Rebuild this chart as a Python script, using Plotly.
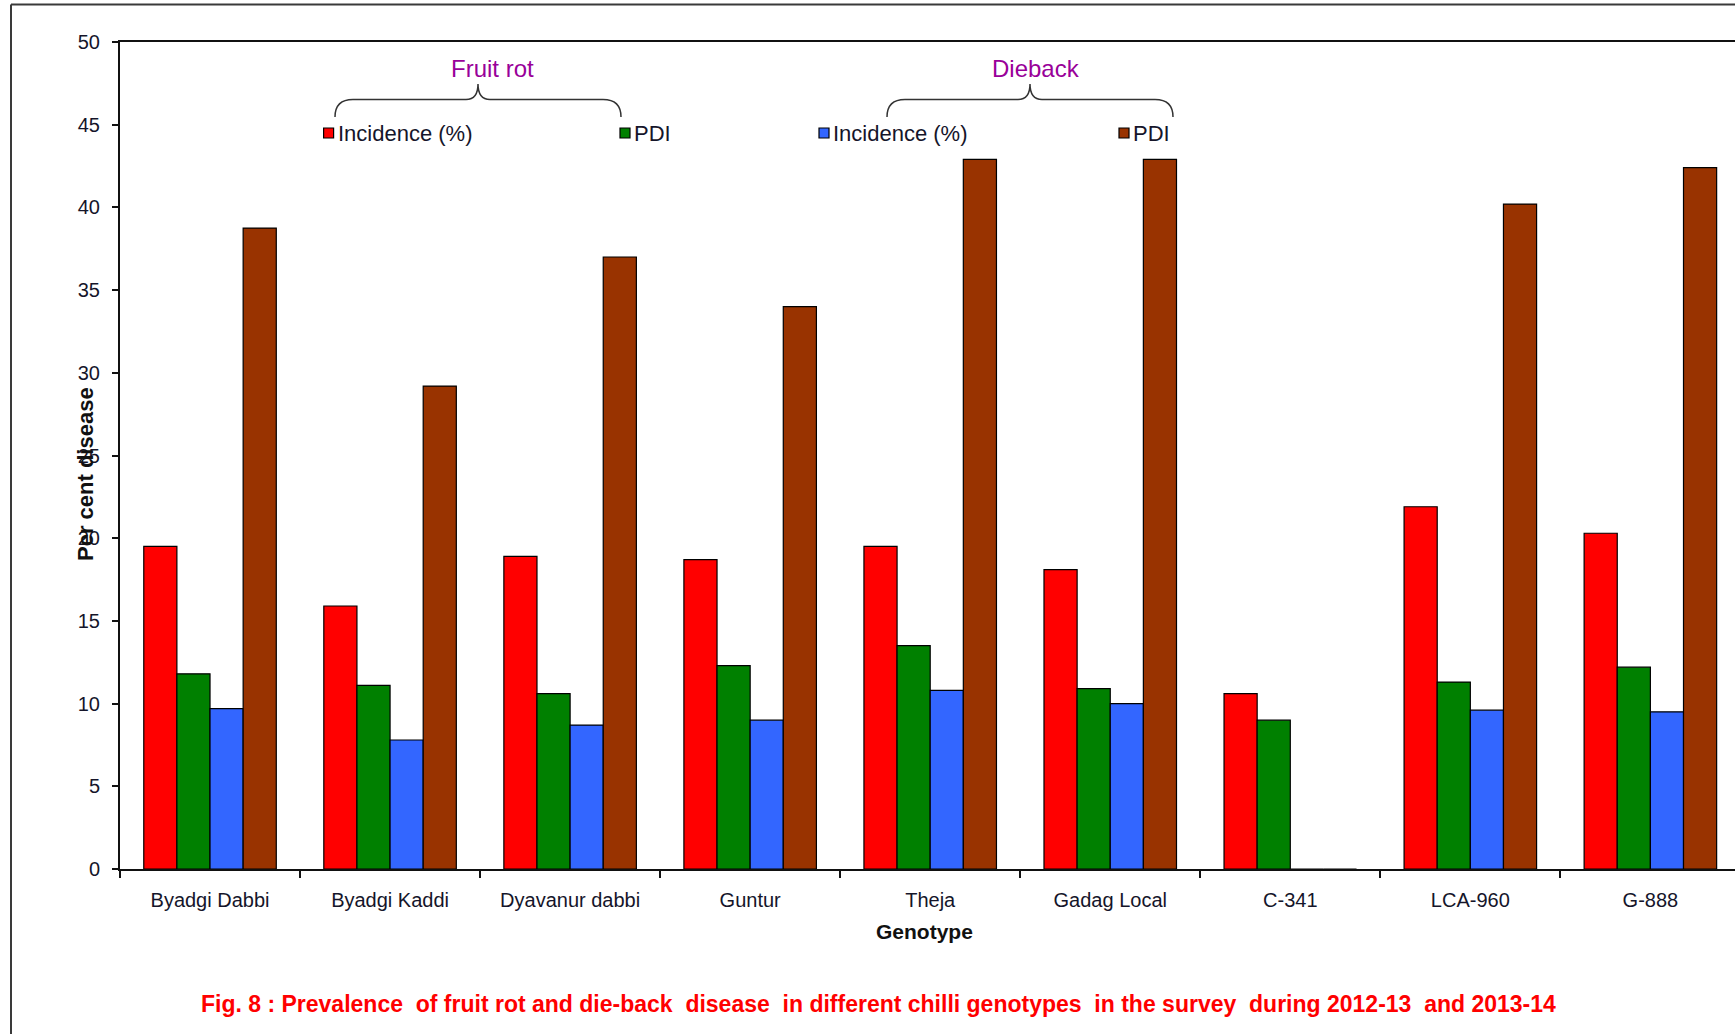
import plotly.graph_objects as go

# Chilli genotypes surveyed
genotypes = ["Byadgi Dabbi", "Byadgi Kaddi", "Dyavanur dabbi", "Guntur", "Theja",
             "Gadag Local", "C-341", "LCA-960", "G-888"]

# Fruit rot
fruit_rot_incidence = [19.5, 15.9, 18.9, 18.7, 19.5, 18.1, 10.6, 21.9, 20.3]
fruit_rot_pdi = [11.8, 11.1, 10.6, 12.3, 13.5, 10.9, 9.0, 11.3, 12.2]

# Dieback
dieback_incidence = [9.7, 7.8, 8.7, 9.0, 10.8, 10.0, 0.0, 9.6, 9.5]
dieback_pdi = [38.75, 29.2, 37.0, 34.0, 42.9, 42.9, 0.0, 40.2, 42.4]

y_ticks = [0, 5, 10, 15, 20, 25, 30, 35, 40, 45, 50]

W, H = 1735, 1034
L, R, T, B = 120, 0, 42, 165
PW, PH = W - L - R, H - T - B

FONT = "Liberation Sans, Arial, sans-serif"
TXT = "#15152a"
NB = "\u00a0"


def px(x):
    return (x - L) / PW


def py(y):
    return (H - B - y) / PH


series = [
    ("Incidence (%)", fruit_rot_incidence, "#FF0000"),
    ("PDI", fruit_rot_pdi, "#008000"),
    ("Incidence (%)", dieback_incidence, "#3366FF"),
    ("PDI", dieback_pdi, "#993300"),
]

fig = go.Figure()
for name, vals, col in series:
    fig.add_trace(go.Bar(
        x=genotypes, y=vals, name=name,
        marker=dict(color=col, line=dict(color="black", width=1.2)),
        showlegend=False,
    ))

shapes = []
annotations = []

# outer frame of the figure
shapes.append(dict(type="line", xref="paper", yref="paper",
                   x0=px(11), x1=px(W + 5), y0=py(4.5), y1=py(4.5),
                   line=dict(color="#3a3a3a", width=2)))
shapes.append(dict(type="line", xref="paper", yref="paper",
                   x0=px(11), x1=px(11), y0=py(4.5), y1=py(H + 5),
                   line=dict(color="#3a3a3a", width=2)))


def brace(x0, x1, xm, y_tip, y_line, y_peak):
    r, r2 = 18, 12
    p = [
        f"M {px(x0)},{py(y_tip)}",
        f"Q {px(x0)},{py(y_line)} {px(x0 + r)},{py(y_line)}",
        f"L {px(xm - r2)},{py(y_line)}",
        f"Q {px(xm)},{py(y_line)} {px(xm)},{py(y_peak)}",
        f"Q {px(xm)},{py(y_line)} {px(xm + r2)},{py(y_line)}",
        f"L {px(x1 - r)},{py(y_line)}",
        f"Q {px(x1)},{py(y_line)} {px(x1)},{py(y_tip)}",
    ]
    return dict(type="path", xref="paper", yref="paper", path=" ".join(p),
                line=dict(color="#333333", width=1.5))


shapes.append(brace(335, 621, 478, 117, 99.5, 84))
shapes.append(brace(887, 1173, 1030, 117, 99.5, 84))

for label, cx in [("Fruit rot", 492), ("Dieback", 1036)]:
    annotations.append(dict(xref="paper", yref="paper", x=px(cx), y=py(68),
                            text=label, showarrow=False, xanchor="center", yanchor="middle",
                            font=dict(family=FONT, size=24, color="#990099")))

# group legend entries
legend_items = [(328.6, "#FF0000", "Incidence (%)"), (625, "#008000", "PDI"),
                (824, "#3366FF", "Incidence (%)"), (1124, "#993300", "PDI")]
for mx, col, label in legend_items:
    shapes.append(dict(type="rect", xref="paper", yref="paper",
                       x0=px(mx - 5), x1=px(mx + 5), y0=py(128), y1=py(138),
                       fillcolor=col, line=dict(color="black", width=1.2)))
    annotations.append(dict(xref="paper", yref="paper", x=px(mx + 7), y=py(133),
                            text=label, showarrow=False, xanchor="left", yanchor="middle",
                            font=dict(family=FONT, size=22, color=TXT)))

annotations.append(dict(xref="paper", yref="paper", x=px(86), y=py(474),
                        text="<b>Per cent disease</b>", textangle=-90, showarrow=False,
                        xanchor="center", yanchor="middle",
                        font=dict(family=FONT, size=22, color="#111111")))
annotations.append(dict(xref="paper", yref="paper", x=px(924), y=py(932),
                        text="<b>Genotype</b>", showarrow=False,
                        xanchor="center", yanchor="middle",
                        font=dict(family=FONT, size=21, color="#111111")))

caption = ("Fig. 8 : Prevalence " + NB + "of fruit rot and die-back " + NB + "disease " + NB
           + "in different chilli genotypes " + NB + "in the survey " + NB + "during 2012-13 "
           + NB + "and 2013-14")
annotations.append(dict(xref="paper", yref="paper", x=px(878), y=py(1004),
                        text="<b>" + caption + "</b>",
                        showarrow=False, xanchor="center", yanchor="middle",
                        font=dict(family=FONT, size=23, color="#FF0000")))

fig.update_layout(
    width=W, height=H,
    margin=dict(l=L, r=R, t=T, b=B),
    paper_bgcolor="white", plot_bgcolor="white",
    barmode="group", bargap=0.264, bargroupgap=0,
    shapes=shapes, annotations=annotations,
    font=dict(family=FONT, color=TXT),
)
fig.update_xaxes(
    type="category", range=[-0.5, 8.47],
    showline=True, linecolor="#111111", linewidth=2, mirror=True,
    ticks="outside", ticklen=7, tickcolor="#111111", tickwidth=1.5,
    tickson="boundaries", ticklabelstandoff=12,
    tickfont=dict(family=FONT, size=20, color=TXT),
    showgrid=False, zeroline=False,
)
fig.update_yaxes(
    range=[0, 50], tickvals=y_ticks,
    showline=True, linecolor="#111111", linewidth=2,
    ticks="outside", ticklen=6, tickcolor="#111111", tickwidth=1.5,
    ticklabelstandoff=8,
    tickfont=dict(family=FONT, size=20, color=TXT),
    showgrid=False, zeroline=False,
)

fig.write_html("out.html")
